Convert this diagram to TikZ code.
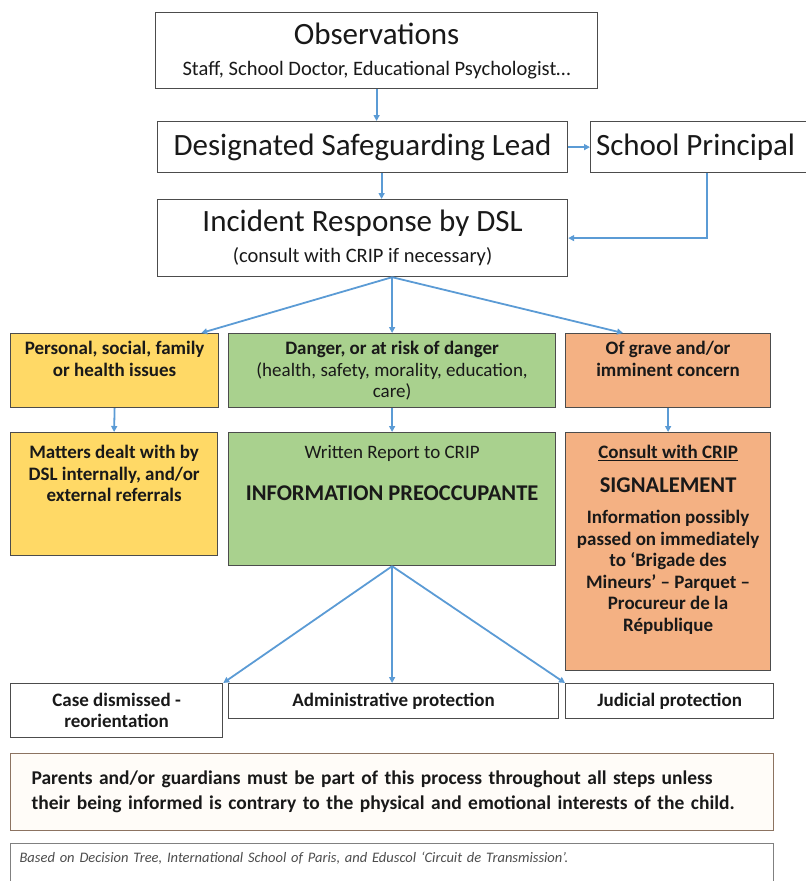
\documentclass[tikz,border=0pt]{standalone}
\usepackage{fontspec}
\setmainfont{Carlito}
\usetikzlibrary{arrows.meta}
\definecolor{flowblue}{HTML}{5B9BD5}
\definecolor{riskyellow}{HTML}{FFD966}
\definecolor{riskgreen}{HTML}{A9D18E}
\definecolor{riskorange}{HTML}{F4B183}
\definecolor{noteedge}{HTML}{8C7361}
\definecolor{notefill}{HTML}{FFFCF8}

\begin{document}
\begin{tikzpicture}[x=1pt,y=-1pt,>={Triangle[length=6pt,width=6pt]},
  stepbox/.style={draw=black!70,line width=1.2pt,fill=white,inner sep=0pt,
    align=flush center,anchor=north west,text=black!90},
  bigtext/.style={font=\fontsize{31}{34}\selectfont},
  smalltext/.style={font=\bfseries\fontsize{19}{21.5}\selectfont},
  flow/.style={->,draw=flowblue,line width=1.8pt}]
\useasboundingbox (0,0) rectangle (806,881);

% top of the chain
\node (obs) at (155,12) [stepbox,bigtext,minimum width=442pt,minimum height=76pt]
  {Observations\\[-3pt]{\fontsize{20.5}{22}\selectfont Staff, School Doctor, Educational Psychologist…}};
\node (dsl) at (157,121) [stepbox,bigtext,minimum width=410pt,minimum height=51pt]
  {Designated Safeguarding Lead};
\node (prin) at (590,121) [stepbox,bigtext,minimum width=222pt,minimum height=51pt]
  {\hspace*{-12pt}School Principal};
\node (inc) at (157,199) [stepbox,bigtext,minimum width=410pt,minimum height=77pt]
  {Incident Response by DSL\\[-3pt]{\fontsize{20.5}{22}\selectfont (consult with CRIP if necessary)}};

% level of concern
\node (yel) at (10,333) [stepbox,smalltext,fill=riskyellow]
  {\parbox[t][74pt][t]{208pt}{\centering\vspace*{8pt}Personal, social, family\\or health issues}};
\node (grn) at (228,333) [stepbox,smalltext,fill=riskgreen]
  {\parbox[t][74pt][t]{327pt}{\centering\vspace*{8pt}Danger, or at risk of danger\\
   {\mdseries(health, safety, morality, education,\\care)}}};
\node (org) at (565,333) [stepbox,smalltext,fill=riskorange]
  {\parbox[t][74pt][t]{205pt}{\centering\vspace*{8pt}Of grave and/or\\imminent concern}};

% response
\node (yel2) at (10,432) [stepbox,smalltext,fill=riskyellow]
  {\parbox[t][123pt][t]{207pt}{\centering\vspace*{13pt}Matters dealt with by\\DSL internally, and/or\\external referrals}};
\node (grn2) at (228,432) [stepbox,smalltext,fill=riskgreen]
  {\parbox[t][133pt][t]{327pt}{\centering\vspace*{13pt}{\mdseries Written Report to CRIP}\\[20pt]
   {\fontsize{22.5}{25}\selectfont INFORMATION PREOCCUPANTE}}};
\node (org2) at (565,432) [stepbox,smalltext,fill=riskorange]
  {\parbox[t][238pt][t]{205pt}{\centering\vspace*{13pt}\underline{Consult with CRIP}\\[12pt]
   {\fontsize{22.5}{25}\selectfont SIGNALEMENT}\\[10pt]
   Information possibly\\passed on immediately\\to ‘Brigade des\\Mineurs’ -- Parquet --\\Procureur de la\\République}};

% outcomes
\node (case) at (10,683) [stepbox,smalltext,minimum width=212pt,minimum height=54pt]
  {Case dismissed -\\reorientation};
\node (adm) at (228,683) [stepbox,smalltext,minimum width=330pt,minimum height=35pt]
  {Administrative protection};
\node (jud) at (565,683) [stepbox,smalltext,minimum width=208pt,minimum height=35pt]
  {Judicial protection};

% notes
\node (note) at (10,753) [stepbox,draw=noteedge,fill=notefill,align=left,
  font=\bfseries\fontsize{19.5}{25}\selectfont,text width=721pt,inner xsep=21pt,minimum height=77pt]
  {Parents and/or guardians must be part of this process throughout all steps unless\\
   their being informed is contrary to the physical and emotional interests of the child.};
\node (src) at (10,843) [stepbox,draw=black!50,align=left,text=black!70,
  font=\itshape\fontsize{14.5}{16}\selectfont,text width=745pt,inner xsep=9pt,inner ysep=8pt,text depth=40pt]
  {Based on Decision Tree, International School of Paris, and Eduscol ‘Circuit de Transmission’.};

\draw [flow] (obs.south) -- (obs.south |- dsl.north);
\draw [flow] (dsl.east) -- (prin.west);
\draw [flow] ([xshift=19pt]dsl.south) -- ([xshift=19pt]inc.north);
\draw [flow] ([xshift=5pt]prin.south) |- (inc.east);
\draw [flow] (inc.south -| grn.north) -- ([xshift=-18pt]yel.north east);
\draw [flow] (inc.south -| grn.north) -- (grn.north);
\draw [flow] (inc.south -| grn.north) -- ([xshift=58pt]org.north west);
\draw [flow] (yel.south) -- (yel2.north);
\draw [flow] (grn.south) -- (grn2.north);
\draw [flow] (org.south) -- (org2.north);
\draw [flow] (grn2.south) -- (case.north east);
\draw [flow] (grn2.south) -- (grn2.south |- adm.north);
\draw [flow] (grn2.south) -- (jud.north west);
\end{tikzpicture}
\end{document}
